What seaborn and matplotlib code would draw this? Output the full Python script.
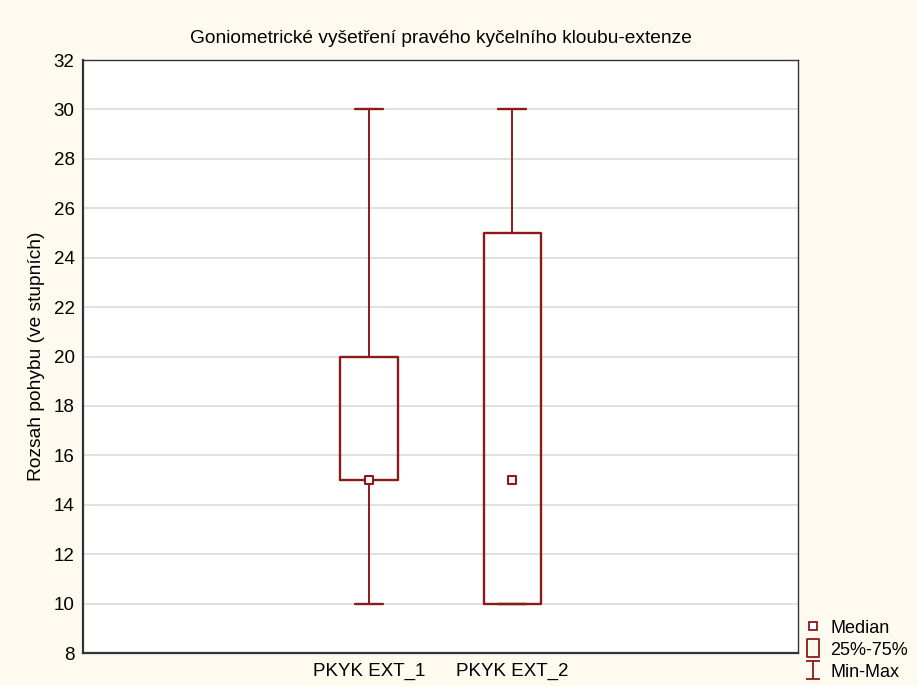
import numpy as np
import matplotlib
matplotlib.use("Agg")
import matplotlib.pyplot as plt
import seaborn as sns
from matplotlib.lines import Line2D
from matplotlib.path import Path

# Data
variables = ["PKYK EXT_1", "PKYK EXT_2"]
minimum = [10, 10]
q1 = [15, 10]
median = [15, 15]
q3 = [20, 25]
maximum = [30, 30]

# Styl
sns.set_theme(style="white")
plt.rcParams['font.family'] = ['Liberation Sans', 'DejaVu Sans']
CERVENA = "#8b1a1a"
POZADI = "#fffaf0"

fig = plt.figure(figsize=(9.17, 6.86), dpi=100, facecolor=POZADI)
ax = fig.add_axes([0.0905, 0.048, 0.78, 0.8645])
ax.set_facecolor("white")

pozice = [2, 3]
stats = []
for i, nazev in enumerate(variables):
    stats.append({
        "label": nazev,
        "whislo": minimum[i],
        "q1": q1[i],
        "med": median[i],
        "q3": q3[i],
        "whishi": maximum[i],
        "fliers": [],
    })

ax.bxp(stats, positions=pozice, widths=0.4, showfliers=False,
       boxprops=dict(color=CERVENA, linewidth=1.7),
       whiskerprops=dict(color=CERVENA, linewidth=1.4),
       capprops=dict(color=CERVENA, linewidth=1.7),
       medianprops=dict(visible=False),
       capwidths=0.2, zorder=3)

# median jako ctverecek
sns.scatterplot(x=pozice, y=median, ax=ax, marker="s", s=36,
                facecolor="white", edgecolor=CERVENA, linewidth=1.5, zorder=4)

ax.set_xlim(0, 5)
ax.set_ylim(8, 32)
ax.set_xticks([1, 2, 3, 4])
ax.set_xticklabels(["", variables[0], variables[1], ""])
ax.set_yticks(np.arange(8, 33, 2))
ax.yaxis.grid(True, color="#dcdcdc", linewidth=1.2)
ax.xaxis.grid(False)
ax.set_axisbelow(True)

for strana in ["left", "bottom"]:
    ax.spines[strana].set_color("#333333")
    ax.spines[strana].set_linewidth(1.6)
for strana in ["top", "right"]:
    ax.spines[strana].set_color("#333333")
    ax.spines[strana].set_linewidth(1.0)

ax.tick_params(axis="both", direction="in", length=4, width=1.2, color="#333333",
               labelsize=13.5, labelcolor="black", pad=6)
ax.tick_params(axis="x", top=False, pad=7)
ax.tick_params(axis="y", right=False)

ax.set_title("Goniometrické vyšetření pravého kyčelního kloubu-extenze",
             fontsize=13.8, pad=12, color="black")
ax.set_ylabel("Rozsah pohybu (ve stupních)", fontsize=13.8, color="black", labelpad=6)

# legenda
znacka_i = Path([(-0.35, 0.5), (0.35, 0.5), (0, 0.5), (0, -0.5), (-0.35, -0.5), (0.35, -0.5)],
                [Path.MOVETO, Path.LINETO, Path.MOVETO, Path.LINETO, Path.MOVETO, Path.LINETO])
znacka_box = Path([(-0.33, -0.5), (0.33, -0.5), (0.33, 0.5), (-0.33, 0.5), (-0.33, -0.5)],
                  [Path.MOVETO, Path.LINETO, Path.LINETO, Path.LINETO, Path.CLOSEPOLY])
polozky = [
    Line2D([], [], linestyle="none", marker="s", markersize=5.5, markerfacecolor="white",
           markeredgecolor=CERVENA, markeredgewidth=1.3),
    Line2D([], [], linestyle="none", marker=znacka_box, markersize=13, markerfacecolor="none",
           markeredgecolor=CERVENA, markeredgewidth=1.3),
    Line2D([], [], linestyle="none", marker=znacka_i, markersize=13.5, markerfacecolor="none",
           markeredgecolor=CERVENA, markeredgewidth=1.3),
]
fig.legend(polozky, ["Median", "25%-75%", "Min-Max"], loc="lower left",
           bbox_to_anchor=(0.877, 0.008), frameon=False, fontsize=13,
           handlelength=1.0, handletextpad=0.45, labelspacing=0.27, borderpad=0,
           borderaxespad=0, labelcolor="black")

fig.savefig("out.png", dpi=100, facecolor=POZADI)
